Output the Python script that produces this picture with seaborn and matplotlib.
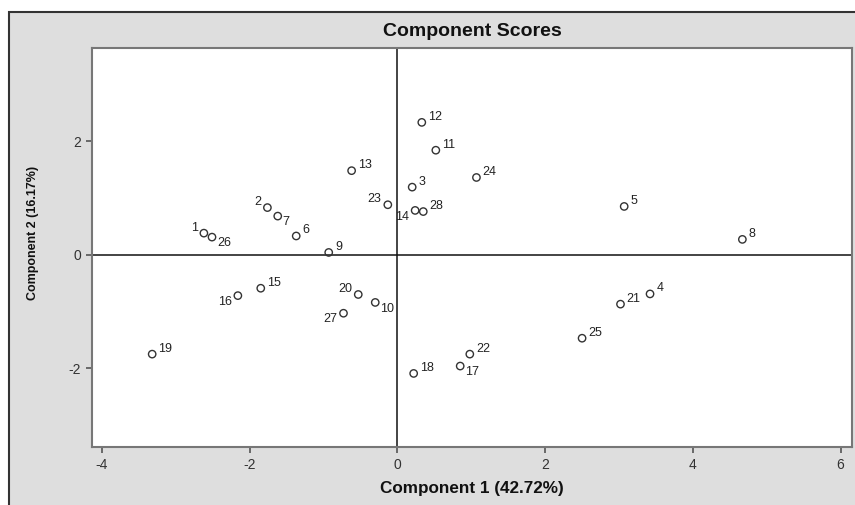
import pandas as pd
import seaborn as sns
import matplotlib.pyplot as plt
from matplotlib.patches import Rectangle

# component scores
case_ids = list(range(1, 29))
comp1 = [-2.62, -1.76, 0.20, 3.42, 3.07, -1.37, -1.62, 4.67, -0.93, -0.30,
         0.52, 0.33, -0.62, 0.24, -1.85, -2.16, 0.85, 0.22, -3.32, -0.53,
         3.02, 0.98, -0.13, 1.07, 2.50, -2.51, -0.73, 0.35]
comp2 = [0.38, 0.83, 1.19, -0.69, 0.85, 0.33, 0.68, 0.27, 0.04, -0.84,
         1.84, 2.33, 1.48, 0.78, -0.59, -0.72, -1.96, -2.09, -1.75, -0.70,
         -0.87, -1.75, 0.88, 1.36, -1.47, 0.31, -1.03, 0.76]
x_ticks = [-4, -2, 0, 2, 4, 6]
y_ticks = [-2, 0, 2]

# where each label sits relative to its point (default upper right)
label_side = {1: 'ul', 2: 'ul', 23: 'ul', 20: 'ul',
              26: 'lr', 7: 'lr', 10: 'lr', 17: 'lr',
              14: 'll', 16: 'll', 27: 'll'}
offsets = {'ur': (4.5, 4.0, 'left'), 'ul': (-4.5, 4.0, 'right'),
           'lr': (3.5, -4.5, 'left'), 'll': (-4.5, -4.5, 'right')}

df = pd.DataFrame({'case': case_ids, 'c1': comp1, 'c2': comp2})

sns.set_style('white')
plt.rcParams['font.family'] = ['Liberation Sans', 'DejaVu Sans']
plt.rcParams['axes.unicode_minus'] = False

fig = plt.figure(figsize=(8.55, 5.05), dpi=100)
fig.patch.set_facecolor('white')
fig.add_artist(Rectangle((0.0105, -0.02), 1.0, 0.9962, transform=fig.transFigure,
                         facecolor='#dedede', edgecolor='#333333', linewidth=1.5, zorder=0))

ax = fig.add_axes([0.108, 0.1143, 0.889, 0.7907])
ax.set_facecolor('white')
ax.axhline(0, color='#111111', linewidth=1.1, zorder=1)
ax.axvline(0, color='#111111', linewidth=1.1, zorder=1)

sns.scatterplot(data=df, x='c1', y='c2', ax=ax, marker='o', s=28,
                facecolor='none', edgecolor='#333333', linewidth=1.0, zorder=3)

for _, row in df.iterrows():
    dx, dy, ha = offsets[label_side.get(int(row.case), 'ur')]
    ax.annotate(str(int(row.case)), (row.c1, row.c2), xytext=(dx, dy),
                textcoords='offset points', ha=ha, va='center',
                fontsize=9, color='#222222')

ax.set_xlim(-4.13, 6.16)
ax.set_ylim(-3.39, 3.64)
ax.set_xticks(x_ticks)
ax.set_yticks(y_ticks)
ax.set_xlabel('')
ax.set_ylabel('')
ax.tick_params(direction='out', length=4, width=1.2, color='#555555',
               labelsize=10, labelcolor='#333333', bottom=True, left=True, pad=4)
for sp in ax.spines.values():
    sp.set_color('#777777')
    sp.set_linewidth(1.5)

fig.text(0.552, 0.9386, 'Component Scores', ha='center', va='center',
         fontsize=14, fontweight='bold', color='#111111')
fig.text(0.552, 0.0317, 'Component 1 (42.72%)', ha='center', va='center',
         fontsize=12.3, fontweight='bold', color='#111111')
fig.text(0.0386, 0.5386, 'Component 2 (16.17%)', ha='center', va='center',
         rotation=90, fontsize=9, fontweight='bold', color='#111111')

fig.savefig('out.png', dpi=100)
